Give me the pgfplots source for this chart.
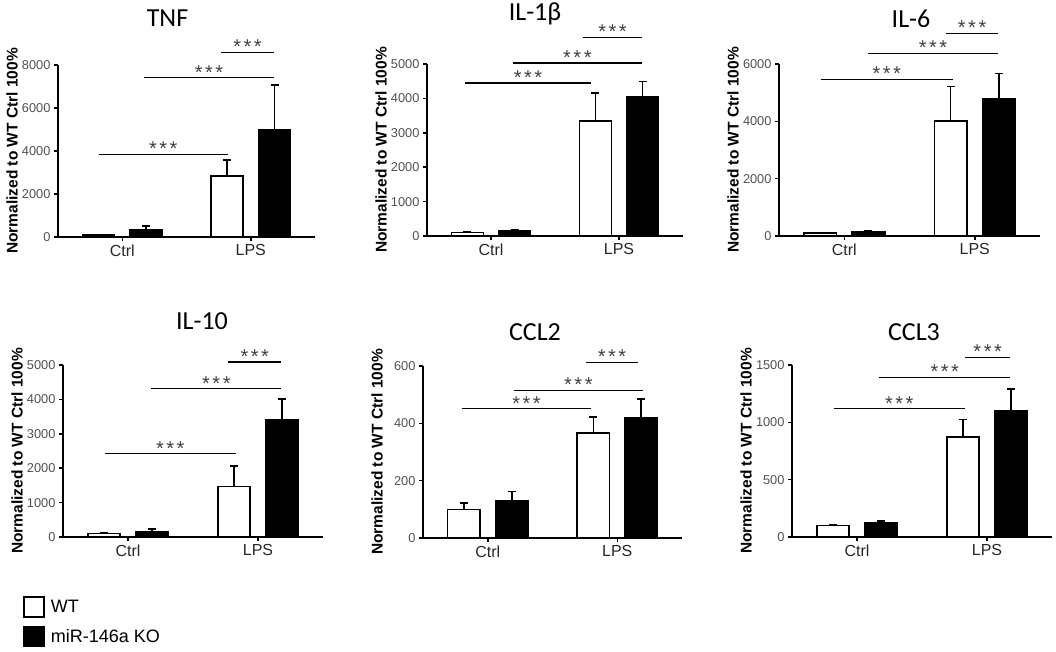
\documentclass[border=0pt]{standalone}
\usepackage{pgfplots}
\pgfplotsset{compat=1.18}
\usepackage{fontspec}
\setmainfont{Liberation Sans}
\newfontfamily\titlefont{Carlito}
\definecolor{tickgray}{HTML}{505050}
\definecolor{stargray}{HTML}{404040}

\pgfplotsset{
  panel/.style={
    scale only axis, height=172pt,
    xmin=-0.5, xmax=1.5, ymin=0,
    axis x line*=bottom, axis y line*=left,
    xtick={0,1}, xticklabels={Ctrl,LPS},
    tick align=outside, major tick length=4pt,
    x tick label style={font=\fontsize{16}{16}\selectfont, text=black!85},
    y tick label style={font=\fontsize{12.8}{12.8}\selectfont, text=tickgray},
    /pgf/number format/assume math mode=true,
    /pgf/number format/1000 sep={},
    ylabel={Normalized to WT Ctrl 100\%},
    ylabel style={font=\bfseries\fontsize{15.5}{15.5}\selectfont, at={(axis description cs:0,0.5)}, yshift=46pt, anchor=center},
    axis line style={line width=1.5pt},
    every tick/.style={line width=1.5pt, black},
    clip=false,
  },
  errs/.style={
    /pgfplots/error bars/y dir=plus, /pgfplots/error bars/y explicit,
    /pgfplots/error bars/error bar style={line width=1.6pt},
    /pgfplots/error bars/error mark options={rotate=90, mark size=4pt, line width=1.6pt}},
  wt/.style={ybar, bar width=0.25, bar shift=0pt, fill=white, draw=black, line width=1.6pt, errs},
  ko/.style={ybar, bar width=0.25, bar shift=0pt, fill=black, draw=black, line width=1.6pt, errs},
}
\newcommand{\sig}[3]{\draw[line width=1.2pt] (axis cs:#1,#3) -- (axis cs:#2,#3) node[midway, yshift=5.5pt, text=stargray, font=\fontsize{20}{20}\selectfont] {*\hspace{2.5pt}*\hspace{2.5pt}*};}

\begin{document}
\begin{tikzpicture}[x=1pt,y=1pt]
\path[use as bounding box] (0,0) rectangle (1056,651);

% bar centres: WT at -0.185 (Ctrl) and 0.815 (LPS); KO at 0.185 and 1.185

% TNF
\begin{axis}[panel, width=257pt, at={(58pt,414pt)}, anchor=south west, ymax=8000, ytick={0,2000,4000,6000,8000}]
\addplot[wt] coordinates {(-0.185,100) +- (0,10) (0.815,2850) +- (0,720)};
\addplot[ko] coordinates {(0.185,330) +- (0,190) (1.185,5000) +- (0,2080)};
\sig{-0.18}{0.82}{3840}
\sig{0.17}{1.18}{7400}
\sig{0.77}{1.18}{8590}
\end{axis}

% IL-1b
\begin{axis}[panel, width=256pt, at={(427pt,415pt)}, anchor=south west, ymax=5000, ytick={0,1000,2000,3000,4000,5000}]
\addplot[wt] coordinates {(-0.185,100) +- (0,15) (0.815,3350) +- (0,800)};
\addplot[ko] coordinates {(0.185,160) +- (0,20) (1.185,4050) +- (0,440)};
\sig{-0.2}{0.78}{4450}
\sig{0.17}{1.18}{5030}
\sig{0.72}{1.18}{5780}
\end{axis}

% IL-6
\begin{axis}[panel, width=261pt, at={(779pt,415pt)}, anchor=south west, ymax=6000, ytick={0,2000,4000,6000}]
\addplot[wt] coordinates {(-0.185,100) +- (0,15) (0.815,4010) +- (0,1210)};
\addplot[ko] coordinates {(0.185,160) +- (0,30) (1.185,4800) +- (0,870)};
\sig{-0.18}{0.83}{5460}
\sig{0.18}{1.18}{6380}
\sig{0.78}{1.18}{7070}
\end{axis}

% IL-10
\begin{axis}[panel, width=260pt, at={(63pt,114pt)}, anchor=south west, ymax=5000, ytick={0,1000,2000,3000,4000,5000},
  legend style={draw=none, fill=none, at={(rel axis cs:0,0)}, xshift=-40pt, yshift=-59pt, anchor=north west,
    font=\fontsize{18}{18}\selectfont, row sep=8pt, inner sep=0pt, nodes={inner sep=0pt, anchor=west}},
  legend cell align=left]
\addplot[wt, legend image code/.code={\draw[fill=white,draw=black,line width=1.6pt] (0pt,-10pt) rectangle (20pt,10pt);}] coordinates {(-0.185,100) +- (0,30) (0.815,1470) +- (0,600)};
\addlegendentry{\hspace{6pt}WT}
\addplot[ko, legend image code/.code={\draw[fill=black,draw=black,line width=1.6pt] (0pt,-10pt) rectangle (20pt,10pt);}] coordinates {(0.185,150) +- (0,80) (1.185,3410) +- (0,600)};
\addlegendentry{\hspace{6pt}miR-146a KO}
\sig{-0.18}{0.83}{2420}
\sig{0.18}{1.18}{4310}
\sig{0.77}{1.18}{5090}
\end{axis}

% CCL2
\begin{axis}[panel, width=259pt, at={(423pt,113pt)}, anchor=south west, ymax=600, ytick={0,200,400,600}]
\addplot[wt] coordinates {(-0.185,100) +- (0,23) (0.815,367) +- (0,55)};
\addplot[ko] coordinates {(0.185,131) +- (0,31) (1.185,420) +- (0,64)};
\sig{-0.2}{0.8}{451}
\sig{0.2}{1.2}{515}
\sig{0.76}{1.16}{612}
\end{axis}

% CCL3
\begin{axis}[panel, width=260pt, at={(792pt,114pt)}, anchor=south west, ymax=1500, ytick={0,500,1000,1500}]
\addplot[wt] coordinates {(-0.185,100) +- (0,10) (0.815,870) +- (0,153)};
\addplot[ko] coordinates {(0.185,125) +- (0,12) (1.185,1104) +- (0,188)};
\sig{-0.18}{0.83}{1118}
\sig{0.17}{1.18}{1393}
\sig{0.83}{1.18}{1566}
\end{axis}

% titles
\node[anchor=base, font=\titlefont\fontsize{26}{26}\selectfont] at (167.5,624) {TNF};
\node[anchor=base, font=\titlefont\fontsize{26}{26}\selectfont] at (535,630) {IL-1β};
\node[anchor=base, font=\titlefont\fontsize{26}{26}\selectfont] at (911,623) {IL-6};
\node[anchor=base, font=\titlefont\fontsize{26}{26}\selectfont] at (202,321) {IL-10};
\node[anchor=base, font=\titlefont\fontsize{26}{26}\selectfont] at (535,310) {CCL2};
\node[anchor=base, font=\titlefont\fontsize{26}{26}\selectfont] at (914,310) {CCL3};
\end{tikzpicture}
\end{document}
